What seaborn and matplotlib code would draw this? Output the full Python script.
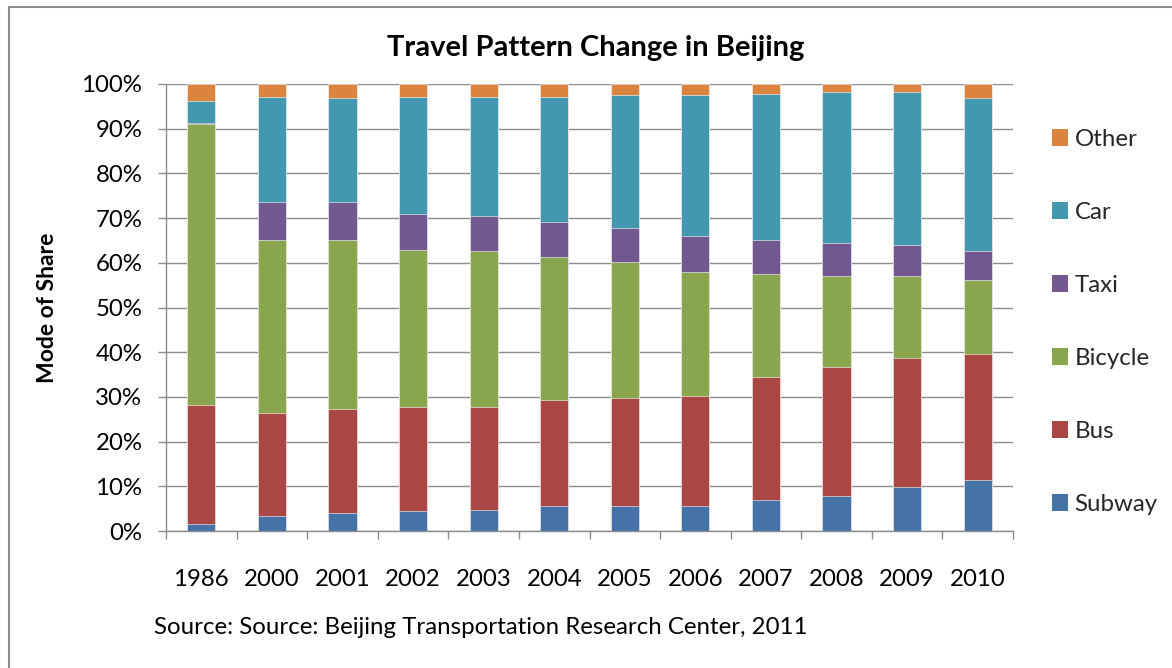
import matplotlib
matplotlib.use("Agg")
import matplotlib.pyplot as plt
import matplotlib.patches as mpatches
from matplotlib.ticker import PercentFormatter, FixedLocator
import seaborn as sns
import pandas as pd
import numpy as np

years = ["1986", "2000", "2001", "2002", "2003", "2004", "2005", "2006", "2007", "2008", "2009", "2010"]
modes = ["Subway", "Bus", "Bicycle", "Taxi", "Car", "Other"]
subway = [1.6, 3.4, 4.0, 4.4, 4.7, 5.5, 5.6, 5.7, 6.9, 7.9, 9.9, 11.4]
bus = [26.5, 23.0, 23.2, 23.4, 23.1, 23.8, 24.1, 24.4, 27.5, 28.9, 28.9, 28.2]
bicycle = [62.9, 38.6, 37.8, 35.0, 34.8, 32.1, 30.4, 27.9, 23.1, 20.3, 18.2, 16.5]
taxi = [0.3, 8.7, 8.7, 8.2, 7.9, 7.8, 7.6, 8.0, 7.7, 7.3, 7.0, 6.6]
car = [4.8, 23.3, 23.2, 26.2, 26.7, 28.0, 29.8, 31.6, 32.6, 33.7, 34.1, 34.2]
other = [3.9, 3.0, 3.1, 2.8, 2.8, 2.8, 2.5, 2.4, 2.2, 1.9, 1.9, 3.1]
colors = ["#4572A7", "#AA4643", "#89A54E", "#71588F", "#4198AF", "#DB843D"]

series = [subway, bus, bicycle, taxi, car, other]
df = pd.DataFrame({m: np.array(v) / 100.0 for m, v in zip(modes, series)})
df["Year"] = years
cum = df[modes].cumsum(axis=1)
cum["Year"] = years

sns.set_theme(style="white")
font = ["Lato", "DejaVu Sans"]
plt.rcParams["font.family"] = font

fs = 17.3

fig = plt.figure(figsize=(11.72, 6.68), dpi=100)
ax = fig.add_axes([166 / 1172, 1 - 531 / 668, (1013 - 166) / 1172, (531 - 84) / 668])

# draw from top cumulative downward so each segment shows
for m, c in reversed(list(zip(modes, colors))):
    sns.barplot(data=cum, x="Year", y=m, color=c, width=0.4, ax=ax,
                saturation=1, edgecolor="white", linewidth=0.4, zorder=3)

ax.set_ylim(0, 1)
ax.set_xlim(-0.5, len(years) - 0.5)
ax.yaxis.set_major_locator(FixedLocator(np.arange(0, 1.01, 0.1)))
ax.yaxis.set_major_formatter(PercentFormatter(1.0, decimals=0))
ax.grid(axis="y", color="#8c8c8c", linewidth=1.0, zorder=0)
ax.set_axisbelow(True)
for s in ["top", "right"]:
    ax.spines[s].set_visible(False)
for s in ["left", "bottom"]:
    ax.spines[s].set_color("#8c8c8c")
    ax.spines[s].set_linewidth(1.0)

ax.tick_params(axis="y", which="major", length=6, width=1.0, color="#8c8c8c",
               labelsize=fs, pad=11, left=True)
ax.tick_params(axis="x", which="major", length=0, labelsize=fs, pad=27)
ax.set_xticks(range(len(years)))
ax.set_xticklabels(years)
ax.xaxis.set_minor_locator(FixedLocator(np.arange(-0.5, len(years), 1.0)))
ax.tick_params(axis="x", which="minor", length=6, width=1.0, color="#8c8c8c", bottom=True)
for lab in ax.get_xticklabels() + ax.get_yticklabels():
    lab.set_color("black")

ax.set_xlabel("")
ax.set_ylabel("Mode of Share", fontsize=16.5, fontweight="bold", color="black", labelpad=17)

fig.text(596 / 1172, 1 - 48 / 668, "Travel Pattern Change in Beijing",
         ha="center", va="center", fontsize=21, fontweight="bold", color="black")
fig.text(154 / 1172, 1 - 627 / 668, "Source: Source: Beijing Transportation Research Center, 2011",
         ha="left", va="center", fontsize=fs, color="black")

handles = [mpatches.Patch(facecolor=c, edgecolor="none", label=m)
           for m, c in zip(modes, colors)][::-1]
leg = fig.legend(handles=handles, loc="upper left",
                 bbox_to_anchor=(1042 / 1172, 1 - 119 / 668), frameon=False,
                 fontsize=fs, handlelength=0.7, handleheight=0.7,
                 handletextpad=0.25, labelspacing=2.17, borderaxespad=0)

border = mpatches.Rectangle((9 / 1172, -0.05), 1.2, (668 - 7) / 668 + 0.05, transform=fig.transFigure,
                            fill=False, edgecolor="#8c8c8c", linewidth=1.5)
fig.patches.append(border)

fig.savefig("out.png", dpi=100, facecolor="white")
